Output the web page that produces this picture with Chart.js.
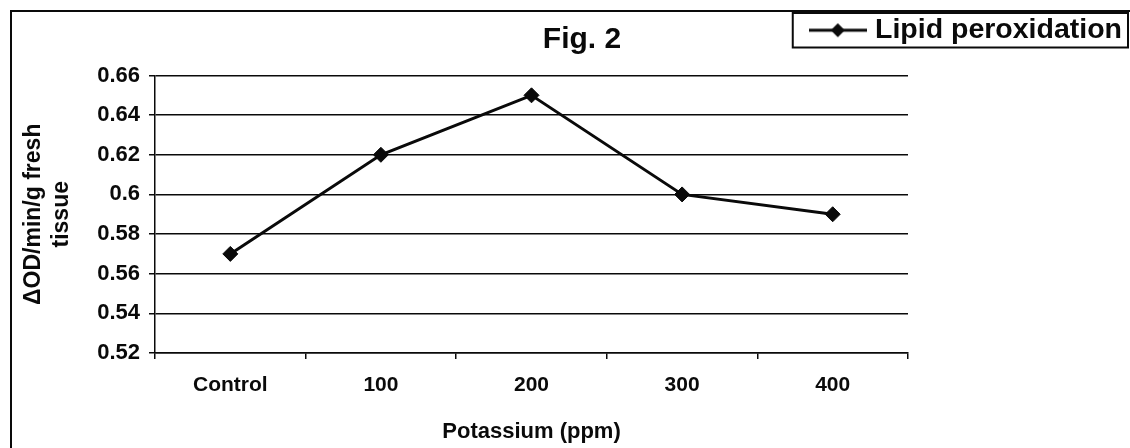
<!DOCTYPE html>
<html>
<head>
<meta charset="utf-8">
<script src="https://cdn.jsdelivr.net/npm/chart.js@4"></script>
<style>
  html, body { margin: 0; padding: 0; background: #fff; overflow: hidden; }
  canvas { display: block; }
</style>
</head>
<body>
<canvas id="chart" width="1130" height="448"></canvas>
<script>
const categories = ['Control', '100', '200', '300', '400'];
const lipidPeroxidation = [0.57, 0.62, 0.65, 0.60, 0.59];
const yTickValues = [0.52, 0.54, 0.56, 0.58, 0.60, 0.62, 0.64, 0.66];
const seriesLabel = 'Lipid peroxidation';
const chartTitle = 'Fig. 2';
const xTitle = 'Potassium (ppm)';
const yTitle = ['\u0394OD/min/g fresh', 'tissue'];

const FONT = "'Liberation Sans', Arial, sans-serif";
const INK = '#0a0a0a';

// legend symbol: short line with a diamond in the middle
function makeLegendSymbol() {
  const c = document.createElement('canvas');
  c.width = 58;
  c.height = 18;
  const g = c.getContext('2d');
  g.strokeStyle = INK;
  g.lineWidth = 3;
  g.beginPath();
  g.moveTo(0, 9);
  g.lineTo(58, 9);
  g.stroke();
  g.fillStyle = INK;
  g.beginPath();
  g.moveTo(29, 2);
  g.lineTo(36, 9);
  g.lineTo(29, 16);
  g.lineTo(22, 9);
  g.closePath();
  g.fill();
  return c;
}

const decorations = {
  id: 'decorations',
  beforeDraw(chart) {
    const { ctx } = chart;
    ctx.save();
    ctx.fillStyle = '#fff';
    ctx.fillRect(0, 0, chart.width, chart.height);
    ctx.strokeStyle = INK;
    ctx.lineWidth = 2;
    ctx.strokeRect(11, 11, 2000, 2000);
    ctx.restore();
  },
  afterDraw(chart) {
    const { ctx } = chart;
    ctx.save();
    ctx.fillStyle = INK;
    ctx.font = 'bold 30px ' + FONT;
    ctx.textAlign = 'center';
    ctx.textBaseline = 'middle';
    ctx.fillText(chartTitle, 582, 40);

    const hb = chart.legend.legendHitBoxes[0];
    if (hb) {
      ctx.strokeStyle = INK;
      ctx.lineWidth = 2;
      ctx.strokeRect(hb.left - 22, hb.top - 3, hb.width + 28, hb.height + 6);
    }
    ctx.restore();
  },
};

new Chart(document.getElementById('chart'), {
  type: 'line',
  data: {
    labels: categories,
    datasets: [{
      label: seriesLabel,
      data: lipidPeroxidation,
      borderColor: INK,
      borderWidth: 3,
      backgroundColor: INK,
      pointStyle: 'rectRot',
      pointRadius: 7.5,
      pointBackgroundColor: INK,
      pointBorderColor: INK,
      pointBorderWidth: 1,
      tension: 0,
      xAxisID: 'x',
      yAxisID: 'y',
    }],
  },
  options: {
    responsive: false,
    devicePixelRatio: 1,
    animation: false,
    layout: { padding: { top: 8, left: 0, right: 0, bottom: 0 } },
    plugins: {
      title: { display: false },
      tooltip: { enabled: false },
      legend: {
        position: 'top',
        align: 'end',
        labels: {
          usePointStyle: true,
          pointStyle: makeLegendSymbol(),
          pointStyleWidth: 46,
          padding: 8,
          color: INK,
          font: { family: FONT, size: 28.5, weight: 'bold' },
        },
      },
    },
    scales: {
      x: {
        type: 'category',
        position: 'bottom',
        offset: true,
        grid: {
          offset: true,
          drawOnChartArea: false,
          drawTicks: true,
          tickLength: 6,
          color: INK,
          lineWidth: 1.5,
        },
        border: { display: true, color: INK, width: 1.5 },
        ticks: {
          padding: 14,
          color: INK,
          font: { family: FONT, size: 21, weight: 'bold' },
        },
        title: {
          display: true,
          text: xTitle,
          color: INK,
          font: { family: FONT, size: 22, weight: 'bold' },
          padding: { top: 0, bottom: 3 },
        },
        afterFit(scale) { scale.height = 95; },
      },
      xTop: {
        type: 'category',
        position: 'top',
        labels: categories,
        grid: { display: false },
        border: { display: false },
        ticks: { display: false },
        afterFit(scale) { scale.height = 21; },
      },
      y: {
        type: 'linear',
        position: 'left',
        min: 0.52,
        max: 0.66,
        afterBuildTicks(scale) {
          scale.ticks = yTickValues.map(v => ({ value: v }));
        },
        grid: {
          color: INK,
          lineWidth: 1.5,
          drawTicks: true,
          tickLength: 6,
        },
        border: { display: true, color: INK, width: 1.5 },
        ticks: {
          padding: 9,
          color: INK,
          font: { family: FONT, size: 22, weight: 'bold' },
          callback: value => String(+value.toFixed(2)),
        },
        title: {
          display: true,
          text: yTitle,
          color: INK,
          font: { family: FONT, size: 23, weight: 'bold', lineHeight: 1.25 },
          padding: { top: 19, bottom: 0 },
        },
        afterFit(scale) { scale.width = 155; },
      },
      yRight: {
        type: 'linear',
        position: 'right',
        min: 0.52,
        max: 0.66,
        grid: { display: false },
        border: { display: false },
        ticks: { display: false },
        afterFit(scale) { scale.width = 222; },
      },
    },
  },
  plugins: [decorations],
});
</script>
</body>
</html>
